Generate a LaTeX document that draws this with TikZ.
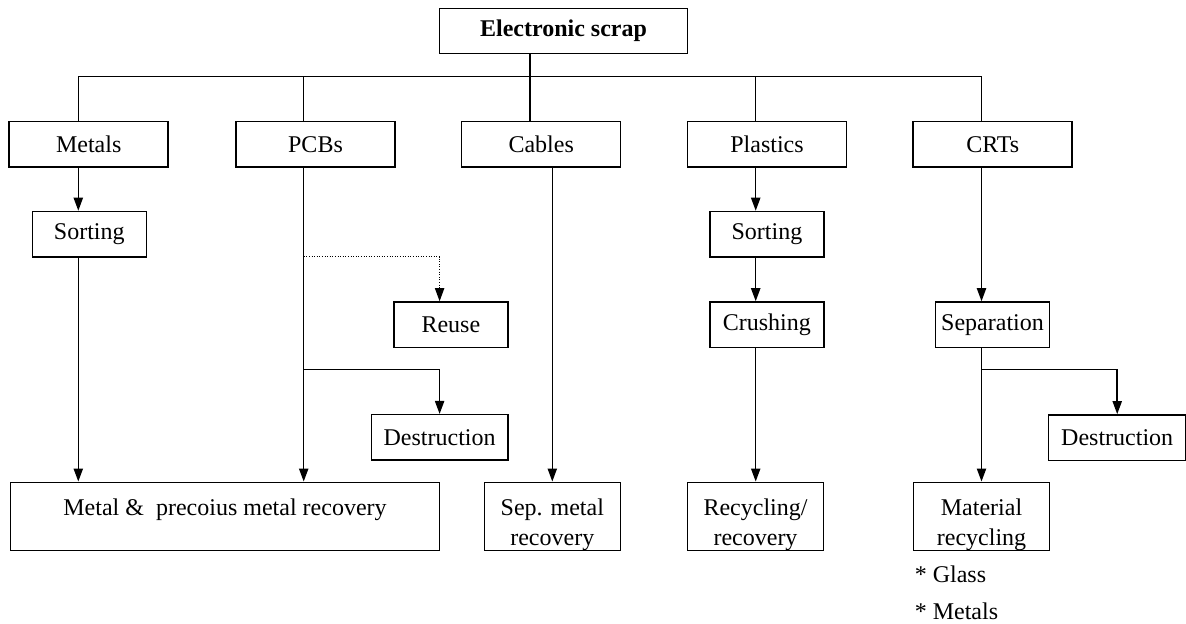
\documentclass[tikz,border=0pt]{standalone}
\usepackage{fontspec}
\setmainfont{Liberation Serif}
\usepackage{tikz}
\usetikzlibrary{arrows.meta, positioning, calc}
\newcommand{\firstline}{\rule{0pt}{16.6pt}}
\newcommand{\lastline}{\rule[-2.6pt]{0pt}{2.6pt}}

\begin{document}
\begin{tikzpicture}[x=0.5pt, y=-0.5pt, >={Triangle[length=6.5pt,width=4.6pt]}, line width=0.75pt,
	box/.style={draw, inner sep=0pt, align=center, font=\fontsize{12}{15}\selectfont, minimum height=22.7pt},
	wide/.style={box, minimum width=79.5pt},
	mid/.style={box, minimum width=57pt},
	low/.style={box, minimum width=68pt, minimum height=34.2pt},
	dotline/.style={line width=0.6pt, dash pattern=on 0.5pt off 0.8pt}]
	\useasboundingbox (0,0) rectangle (1186,624);

	% top and first row
	\node[box, minimum width=124.2pt] (scrap) at (563.5,31) {\textbf{Electronic scrap}};
	\node[wide] (metals) at (88.7,144.2) {Metals}; \node[wide] (pcbs) at (315.5,144.2) {PCBs}; \node[wide] (cables) at (541.2,144.2) {Cables};
	\node[wide] (plastics) at (767,144.2) {Plastics}; \node[wide] (crts) at (992.7,144.2) {CRTs};

	% middle steps
	\node[mid] (sortm) at (89.3,234.2) {Sorting}; \node[mid] (sortp) at (766.9,234.2) {Sorting};
	\node[mid] (reuse) at (450.9,324.7) {Reuse}; \node[mid] (crush) at (766.9,324.7) {Crushing}; \node[mid] (separ) at (992.5,324.7) {Separation};
	\node[box, minimum width=68.3pt] (destrp) at (439.6,437.4) {Destruction}; \node[box, minimum width=68.5pt] (destrc) at (1117.2,437.6) {Destruction};

	% results
	\node[low, minimum width=214.7pt] (metrec) at (225,516.5) {\firstline Metal \&\ \ precoius metal recovery\\\lastline};
	\node[low] (seprec) at (552.3,516.5) {\firstline Sep. metal\\recovery}; \node[low] (recyc) at (755.5,516.5) {\firstline Recycling/\\recovery};
	\node[low] (matrec) at (981.5,516.5) {\firstline Material\\recycling};
	\node[anchor=west, font=\fontsize{12}{15}\selectfont, inner sep=0pt] (glass) at (914,574) {* Glass};
	\node[anchor=west, font=\fontsize{12}{15}\selectfont, inner sep=0pt] (metl) at (914,611.7) {* Metals};

	% bus
	\coordinate (c1) at (78.3,76.3); \coordinate (c2) at (303.7,76.3); \coordinate (c3) at (530,76.3); \coordinate (c4) at (755.7,76.3); \coordinate (c5) at (981.5,76.3);
	\draw (c3 |- scrap.south) -- (c3); \draw (c1) -- (c5);
	\foreach \c/\n in {c1/metals, c2/pcbs, c3/cables, c4/plastics, c5/crts} \draw (\c) -- (\c |- \n.north);

	% flows
	\draw[->] (c1 |- metals.south) -- (c1 |- sortm.north); \draw[->] (c1 |- sortm.south) -- (c1 |- metrec.north);
	\draw[->] (c2 |- pcbs.south) -- (c2 |- metrec.north);
	\coordinate (pdot) at (303.7,256.7); \coordinate (pfork) at (303.7,369.7);
	\draw[->, dotline] (pdot) -| (destrp.center |- reuse.north); \draw[->] (pfork) -| (destrp.north);
	\draw[->] (cables.south -| seprec.north) -- (seprec.north);
	\draw[->] (c4 |- plastics.south) -- (c4 |- sortp.north); \draw[->] (c4 |- sortp.south) -- (c4 |- crush.north); \draw[->] (c4 |- crush.south) -- (c4 |- recyc.north);
	\draw[->] (c5 |- crts.south) -- (c5 |- separ.north); \draw[->] (c5 |- separ.south) -- (c5 |- matrec.north);
	\coordinate (cfork) at (981.5,369.7); \draw[->] (cfork) -| (destrc.north);
\end{tikzpicture}
\end{document}
